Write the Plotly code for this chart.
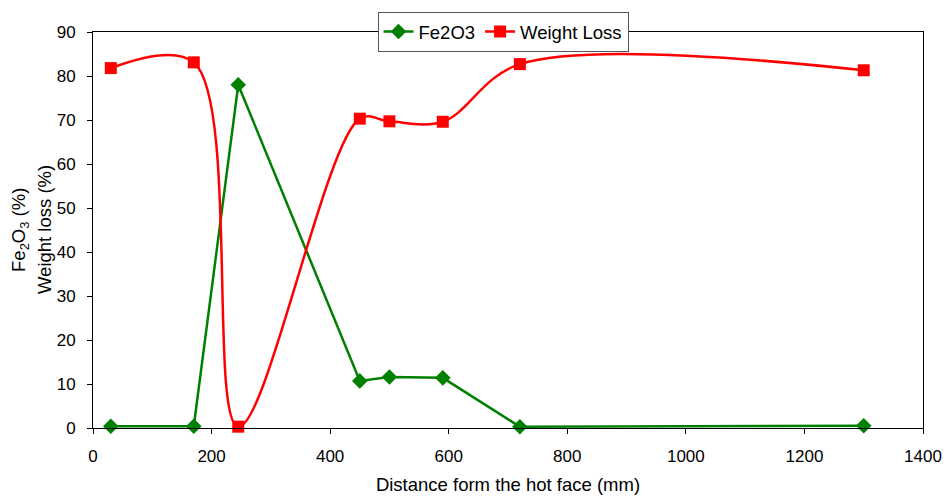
import plotly.graph_objects as go

distance = [30, 170, 245, 450, 500, 590, 720, 1300]
fe2o3 = [0.4, 0.4, 78.0, 10.7, 11.6, 11.4, 0.3, 0.5]
weight_loss = [81.8, 83.1, 0.3, 70.3, 69.7, 69.6, 82.7, 81.3]

FONT = "Liberation Sans, Arial, sans-serif"

fig = go.Figure()
fig.add_trace(go.Scatter(
    x=distance, y=fe2o3, name="Fe2O3", mode="lines+markers",
    line=dict(color="#008000", width=2.5),
    marker=dict(symbol="diamond", size=12, color="#008000"),
    cliponaxis=False,
))
fig.add_trace(go.Scatter(
    x=distance, y=weight_loss, name="Weight Loss", mode="lines+markers",
    line=dict(color="#FF0000", width=2.5, shape="spline", smoothing=1),
    marker=dict(symbol="square", size=12, color="#FF0000"),
    cliponaxis=False,
))

fig.update_layout(
    width=946, height=499,
    margin=dict(l=93, r=23, t=23, b=71),
    paper_bgcolor="white", plot_bgcolor="white",
    font=dict(family=FONT, size=17, color="black"),
    showlegend=True,
    legend=dict(
        orientation="h", x=0.494, xanchor="center", y=1.0, yanchor="middle",
        bgcolor="white", bordercolor="#555555", borderwidth=1,
        font=dict(family=FONT, size=18.5), tracegroupgap=0,
    ),
    xaxis=dict(
        range=[0, 1400], tickvals=[0, 200, 400, 600, 800, 1000, 1200, 1400],
        showgrid=False, zeroline=False, showline=True, linecolor="black",
        linewidth=1, mirror=True, ticks="outside", ticklen=5, tickcolor="black",
        ticklabelstandoff=8, automargin=False,
        tickfont=dict(family=FONT, size=17),
        title=dict(text="Distance form the hot face (mm)", standoff=12,
                   font=dict(family=FONT, size=18.5, color="black")),
    ),
    yaxis=dict(
        range=[0, 90], tickvals=list(range(0, 91, 10)),
        showgrid=False, zeroline=False, showline=True, linecolor="black",
        linewidth=1, mirror=True, ticks="outside", ticklen=5, tickcolor="black",
        ticklabelstandoff=8, automargin=False,
        tickfont=dict(family=FONT, size=17),
    ),
    annotations=[
        dict(text="Fe<sub>2</sub>O<sub>3</sub> (%)", textangle=-90,
             xref="paper", yref="paper", x=-0.0880, y=0.5,
             xanchor="center", yanchor="middle", showarrow=False,
             font=dict(family=FONT, size=18.5)),
        dict(text="Weight loss (%)", textangle=-90,
             xref="paper", yref="paper", x=-0.0590, y=0.5,
             xanchor="center", yanchor="middle", showarrow=False,
             font=dict(family=FONT, size=18.5)),
    ],
)

fig.write_html("out.html")
